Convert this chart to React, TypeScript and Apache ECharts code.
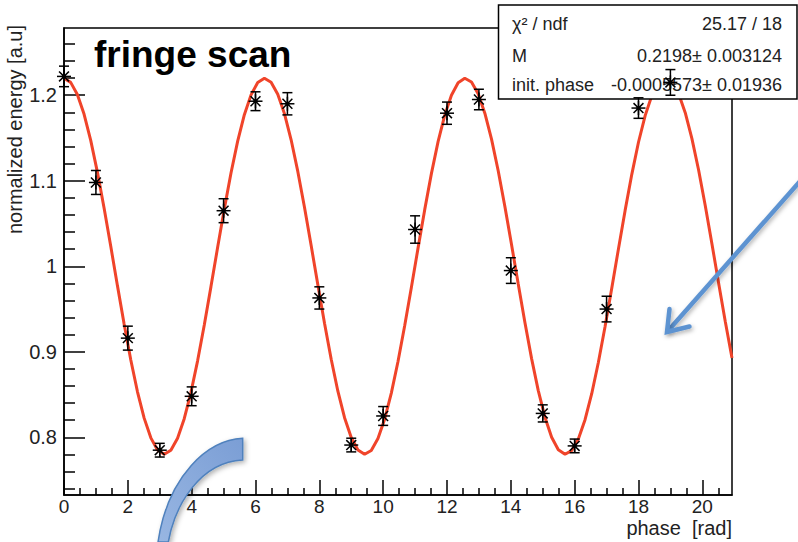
import React, { useEffect, useRef } from "react";
import * as echarts from "echarts";

// Measured points of the fringe scan
const phaseRad = [0, 1, 2, 3, 4, 5, 6, 7, 8, 9, 10, 11, 12, 13, 14, 15, 16, 17, 18, 19];
const energy = [
  1.222, 1.098, 0.916, 0.785, 0.848, 1.065, 1.193, 1.19, 0.963, 0.791,
  0.825, 1.043, 1.179, 1.195, 0.995, 0.828, 0.79, 0.95, 1.185, 1.215,
];
const energyErr = [
  0.012, 0.014, 0.014, 0.008, 0.011, 0.014, 0.011, 0.013, 0.013, 0.008,
  0.011, 0.016, 0.013, 0.012, 0.015, 0.01, 0.008, 0.015, 0.012, 0.015,
];

// Fit result: E(phase) = 1 + M cos(phase + init. phase)
const fitM = 0.2198;
const fitInitPhase = -0.0005573;
const fitSamples = 100;

// Axis ranges and ticks
const xMin = 0;
const xMax = 20.93;
const yMin = 0.7326;
const yMax = 1.2786;
const xMajorTicks = [0, 2, 4, 6, 8, 10, 12, 14, 16, 18, 20];
const yMajorTicks = [0.8, 0.9, 1, 1.1, 1.2];

// Statistics box
const statNames = ["χ² / ndf", "M", "init. phase"];
const statValues = ["25.17 / 18", "0.2198± 0.003124", "-0.0005573± 0.01936"];

const FONT = '"Liberation Sans", Arial, Helvetica, sans-serif';

function minorTicks(majors: number[], step: number, sub: number, lo: number, hi: number) {
  const out: number[] = [];
  const first = majors[0] - step;
  for (let m = first; m <= majors[majors.length - 1] + step + 1e-9; m += step) {
    for (let k = 1; k < sub; k++) {
      const v = +(m + (step * k) / sub).toFixed(6);
      if (v > lo && v < hi) out.push(v);
    }
  }
  return out;
}

const xMinorTicks = minorTicks(xMajorTicks, 2, 4, xMin, xMax);
const yMinorTicks = minorTicks(yMajorTicks, 0.1, 5, yMin, yMax);

function fitCurve(): number[][] {
  const pts: number[][] = [];
  for (let i = 0; i <= fitSamples; i++) {
    const x = xMin + ((xMax - xMin) * i) / fitSamples;
    pts.push([x, 1 + fitM * Math.cos(x + fitInitPhase)]);
  }
  return pts;
}

// Curved block arrow outline
const curvedArrowPath =
  "M242.7,438.3 C208,440 168,475 158,542 L168.3,542 C175,505 200,462 242.7,460 Z";
echarts.graphic.registerShape(
  "curvedArrow",
  echarts.graphic.extendPath(curvedArrowPath, {})
);

export default function App() {
  const ref = useRef<HTMLDivElement>(null);

  useEffect(() => {
    if (!ref.current) return;
    const chart = echarts.init(ref.current, undefined, { renderer: "svg" });

    const points = phaseRad.map((x, i) => [x, energy[i], energyErr[i]]);
    const axisColor = "#000";
    const labelColor = "#222";
    const statRowY = [24, 56, 85];

    const option: any = {
      animation: false,
      backgroundColor: "#fff",
      grid: {
        left: 64,
        top: 28,
        right: 66,
        bottom: 47,
        show: true,
        borderColor: axisColor,
        borderWidth: 1.5,
        backgroundColor: "transparent",
        outerBoundsMode: "none",
      },
      xAxis: [
        {
          type: "value",
          min: xMin,
          max: xMax,
          position: "bottom",
          axisLine: { show: true, lineStyle: { color: axisColor, width: 1.5 } },
          axisTick: {
            show: true,
            inside: true,
            length: 15,
            customValues: xMajorTicks,
            lineStyle: { color: axisColor, width: 1.5 },
          },
          axisLabel: {
            customValues: xMajorTicks,
            fontSize: 19,
            fontFamily: FONT,
            color: labelColor,
            margin: 2,
          },
          splitLine: { show: false },
        },
        {
          type: "value",
          min: xMin,
          max: xMax,
          position: "bottom",
          axisLine: { show: false },
          axisTick: {
            show: true,
            inside: true,
            length: 7,
            customValues: xMinorTicks,
            lineStyle: { color: axisColor, width: 1.5 },
          },
          axisLabel: { show: false },
          splitLine: { show: false },
        },
      ],
      yAxis: [
        {
          type: "value",
          min: yMin,
          max: yMax,
          position: "left",
          axisLine: { show: true, lineStyle: { color: axisColor, width: 1.5 } },
          axisTick: {
            show: true,
            inside: true,
            length: 21,
            customValues: yMajorTicks,
            lineStyle: { color: axisColor, width: 1.5 },
          },
          axisLabel: {
            customValues: yMajorTicks,
            fontSize: 20,
            fontFamily: FONT,
            color: labelColor,
            margin: 7,
          },
          splitLine: { show: false },
        },
        {
          type: "value",
          min: yMin,
          max: yMax,
          position: "left",
          axisLine: { show: false },
          axisTick: {
            show: true,
            inside: true,
            length: 11,
            customValues: yMinorTicks,
            lineStyle: { color: axisColor, width: 1.5 },
          },
          axisLabel: { show: false },
          splitLine: { show: false },
        },
      ],
      series: [
        {
          type: "line",
          name: "fit",
          xAxisIndex: 0,
          yAxisIndex: 0,
          data: fitCurve(),
          showSymbol: false,
          smooth: false,
          lineStyle: { color: "#f0442a", width: 3 },
          z: 2,
          silent: true,
        },
        {
          type: "custom",
          name: "data",
          xAxisIndex: 0,
          yAxisIndex: 0,
          data: points,
          encode: { x: 0, y: 1 },
          z: 10,
          renderItem: (_params: any, api: any) => {
            const x = api.value(0);
            const y = api.value(1);
            const e = api.value(2);
            const c = api.coord([x, y]);
            const hi = api.coord([x, y + e]);
            const lo = api.coord([x, y - e]);
            const r = 7;
            const d = r * 0.7071;
            const cap = 5;
            const st = { stroke: "#000", lineWidth: 1.5 };
            const seg = (x1: number, y1: number, x2: number, y2: number) => ({
              type: "line",
              shape: { x1, y1, x2, y2 },
              style: st,
            });
            return {
              type: "group",
              children: [
                seg(c[0], hi[1], c[0], lo[1]),
                seg(c[0] - cap, hi[1], c[0] + cap, hi[1]),
                seg(c[0] - cap, lo[1], c[0] + cap, lo[1]),
                seg(c[0] - r, c[1], c[0] + r, c[1]),
                seg(c[0], c[1] - r, c[0], c[1] + r),
                seg(c[0] - d, c[1] - d, c[0] + d, c[1] + d),
                seg(c[0] - d, c[1] + d, c[0] + d, c[1] - d),
                {
                  type: "circle",
                  shape: { cx: c[0], cy: c[1], r: 2.2 },
                  style: { fill: "#000" },
                },
              ],
            };
          },
        },
      ],
      graphic: [
        // statistics box
        {
          type: "rect",
          z: 5,
          shape: { x: 498.5, y: 5, width: 298.5, height: 94 },
          style: { fill: "#fff", stroke: "#000", lineWidth: 1.5 },
        },
        ...statNames.map((t, i) => ({
          type: "text",
          z: 6,
          x: 512,
          y: statRowY[i],
          style: {
            text: t,
            fill: labelColor,
            fontSize: 18,
            fontFamily: FONT,
            align: "left",
            verticalAlign: "middle",
          },
        })),
        ...statValues.map((t, i) => ({
          type: "text",
          z: 6,
          x: 782,
          y: statRowY[i],
          style: {
            text: t,
            fill: labelColor,
            fontSize: 18,
            fontFamily: FONT,
            align: "right",
            verticalAlign: "middle",
          },
        })),
        // axis titles
        {
          type: "text",
          z: 6,
          x: 15,
          y: 25,
          rotation: Math.PI / 2,
          style: {
            text: "normalized energy [a.u]",
            fill: labelColor,
            fontSize: 20,
            fontFamily: FONT,
            align: "right",
            verticalAlign: "middle",
          },
        },
        {
          type: "text",
          z: 6,
          x: 732,
          y: 527.5,
          style: {
            text: "phase  [rad]",
            fill: labelColor,
            fontSize: 20,
            fontFamily: FONT,
            align: "right",
            verticalAlign: "middle",
          },
        },
        // title
        {
          type: "text",
          z: 20,
          x: 94,
          y: 54,
          style: {
            text: "fringe scan",
            fill: "#000",
            fontSize: 37,
            fontWeight: "bold",
            fontFamily: FONT,
            align: "left",
            verticalAlign: "middle",
          },
        },
        // straight pointer arrow
        {
          type: "line",
          z: 30,
          shape: { x1: 802, y1: 179, x2: 667, y2: 332 },
          style: {
            stroke: "#5d93d1",
            lineWidth: 4.5,
            shadowBlur: 4,
            shadowColor: "rgba(0,0,0,0.3)",
            shadowOffsetX: 1.5,
            shadowOffsetY: 2,
          },
        },
        {
          type: "polyline",
          z: 30,
          shape: { points: [[669.5, 309], [667, 332], [689.5, 326.5]] },
          style: {
            stroke: "#5d93d1",
            fill: null,
            lineWidth: 4.5,
            lineJoin: "miter",
            lineCap: "round",
            shadowBlur: 4,
            shadowColor: "rgba(0,0,0,0.3)",
            shadowOffsetX: 1.5,
            shadowOffsetY: 2,
          },
        },
        // curved block arrow
        {
          type: "curvedArrow",
          z: 30,
          x: 0,
          y: 0,
          style: {
            fill: new echarts.graphic.LinearGradient(1, 0, 0, 1, [
              { offset: 0, color: "#7b9ed5" },
              { offset: 1, color: "#98b6e2" },
            ]),
            stroke: "#4f81bd",
            lineWidth: 1.5,
            shadowBlur: 5,
            shadowColor: "rgba(0,0,0,0.3)",
            shadowOffsetX: 2,
            shadowOffsetY: 2,
          },
        },
      ],
    };

    chart.setOption(option);
    return () => chart.dispose();
  }, []);

  return (
    <div
      ref={ref}
      style={{
        position: "fixed",
        left: 0,
        top: 0,
        width: 798,
        height: 542,
        background: "#fff",
      }}
    />
  );
}
